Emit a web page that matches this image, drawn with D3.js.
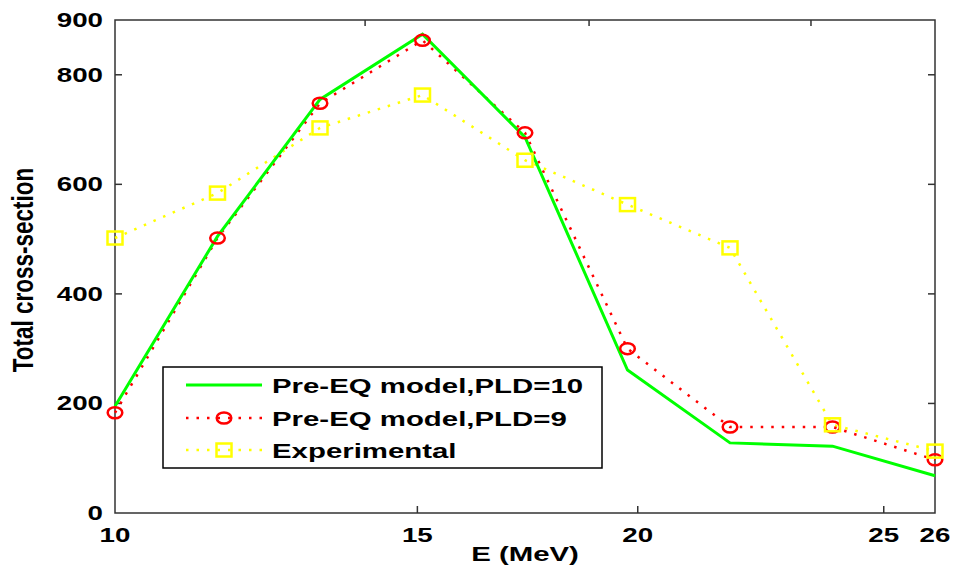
<!DOCTYPE html>
<html><head><meta charset="utf-8">
<script src="https://cdn.jsdelivr.net/npm/d3@7"></script>
<style>html,body{margin:0;padding:0;background:#fff;}svg{display:block;}</style>
</head><body>
<svg id="chart" width="956" height="577"></svg>
<script>
const energies = [10, 12, 14, 16, 18, 20, 22, 24, 26];
const pld10 = [195, 505, 755, 874, 686, 261, 128, 122, 68];
const pld9 = [183, 502, 748, 863, 694, 300, 157, 157, 97];
const experimental = [502, 584, 703, 763, 644, 563, 484, 161, 113];
const yTicks = [0, 200, 400, 600, 800, 900];
const xTickPos = [10, 15.9, 20.2, 25, 26];
const xTickLabels = ["10", "15", "20", "25", "26"];
const topTickPos = [14.88, 19.25, 23.58];
const seriesNames = ["Pre-EQ model,PLD=10", "Pre-EQ model,PLD=9", "Experimental"];

const svg = d3.select("#chart");
const FONT = "'Liberation Sans', Arial, sans-serif";
const SX = 1.32;
const x = d3.scaleLinear().domain([10, 26]).range([115, 935]);
const y = d3.scaleLinear().domain([0, 900]).range([513, 20]);

// frame
const axisColor = "#333";
svg.append("rect").attr("x", x(10)).attr("y", y(900)).attr("width", x(26) - x(10)).attr("height", y(0) - y(900))
  .attr("fill", "none").attr("stroke", axisColor).attr("stroke-width", 1.5);

// ticks
const tl = 7;
yTicks.filter(v => v > 0 && v < 900).forEach(v => {
  svg.append("line").attr("x1", x(10)).attr("x2", x(10) + tl).attr("y1", y(v)).attr("y2", y(v)).attr("stroke", axisColor).attr("stroke-width", 1.5);
  svg.append("line").attr("x1", x(26)).attr("x2", x(26) - tl).attr("y1", y(v)).attr("y2", y(v)).attr("stroke", axisColor).attr("stroke-width", 1.5);
});
xTickPos.filter(v => v > 10 && v < 26).forEach(v => {
  svg.append("line").attr("x1", x(v)).attr("x2", x(v)).attr("y1", y(0)).attr("y2", y(0) - tl).attr("stroke", axisColor).attr("stroke-width", 1.5);
});
topTickPos.forEach(v => {
  svg.append("line").attr("x1", x(v)).attr("x2", x(v)).attr("y1", y(900)).attr("y2", y(900) + 6).attr("stroke", axisColor).attr("stroke-width", 1.5);
});

function stext(txt, tx, ty, anchor, size, sx) {
  return svg.append("text").text(txt)
    .attr("transform", `translate(${tx},${ty}) scale(${sx},1)`)
    .attr("text-anchor", anchor).attr("font-family", FONT).attr("font-weight", "bold")
    .attr("font-size", size).attr("fill", "#000");
}
yTicks.forEach(v => stext(String(v), x(10) - 12, y(v) + 7, "end", 21, SX));
xTickPos.forEach((v, i) => stext(xTickLabels[i], x(v), y(0) + 29, "middle", 21, SX));

stext("E (MeV)", 525, 561, "middle", 21, 1.4);
svg.append("text").text("Total cross-section")
  .attr("transform", `translate(33,270) scale(1.3,1) rotate(-90)`)
  .attr("text-anchor", "middle").attr("font-family", FONT).attr("font-weight", "bold")
  .attr("font-size", 22.5).attr("fill", "#000");

// series
const line = d3.line();
const pts = arr => energies.map((e, i) => [x(e), y(arr[i])]);
svg.append("path").attr("d", line(pts(experimental))).attr("fill", "none").attr("stroke", "#ffff00")
  .attr("stroke-width", 2.5).attr("stroke-dasharray", "2.5,8");
svg.append("path").attr("d", line(pts(pld9))).attr("fill", "none").attr("stroke", "#ff0000")
  .attr("stroke-width", 2.5).attr("stroke-dasharray", "2.5,8");
svg.append("path").attr("d", line(pts(pld10))).attr("fill", "none").attr("stroke", "#00ff00")
  .attr("stroke-width", 3);

function circleMarker(g, cx, cy) {
  g.append("ellipse").attr("cx", cx).attr("cy", cy).attr("rx", 7.3).attr("ry", 5.5)
    .attr("fill", "none").attr("stroke", "#ff0000").attr("stroke-width", 2.5);
}
function squareMarker(g, cx, cy) {
  g.append("rect").attr("x", cx - 7.5).attr("y", cy - 6.5).attr("width", 15).attr("height", 13)
    .attr("fill", "none").attr("stroke", "#ffff00").attr("stroke-width", 2.5);
}
pts(pld9).forEach(p => circleMarker(svg, p[0], p[1]));
pts(experimental).forEach(p => squareMarker(svg, p[0], p[1]));

// legend
const lg = svg.append("g");
lg.append("rect").attr("x", 163).attr("y", 367).attr("width", 439).attr("height", 101)
  .attr("fill", "#fff").attr("stroke", "#000").attr("stroke-width", 1.5);
const rowsY = [385, 418, 450];
const styles = [
  {stroke: "#00ff00", dash: null, w: 3, marker: null},
  {stroke: "#ff0000", dash: "2.5,8", w: 2.5, marker: circleMarker},
  {stroke: "#ffff00", dash: "2.5,8", w: 2.5, marker: squareMarker}
];
seriesNames.forEach((name, i) => {
  const s = styles[i];
  const l = lg.append("line").attr("x1", 186).attr("x2", 262).attr("y1", rowsY[i]).attr("y2", rowsY[i])
    .attr("stroke", s.stroke).attr("stroke-width", s.w);
  if (s.dash) l.attr("stroke-dasharray", s.dash);
  if (s.marker) s.marker(lg, 224, rowsY[i]);
  lg.append("text").text(name)
    .attr("transform", `translate(272,${rowsY[i] + 8}) scale(1.4,1)`)
    .attr("font-family", FONT).attr("font-weight", "bold").attr("font-size", 21).attr("fill", "#000");
});
</script>
</body></html>
